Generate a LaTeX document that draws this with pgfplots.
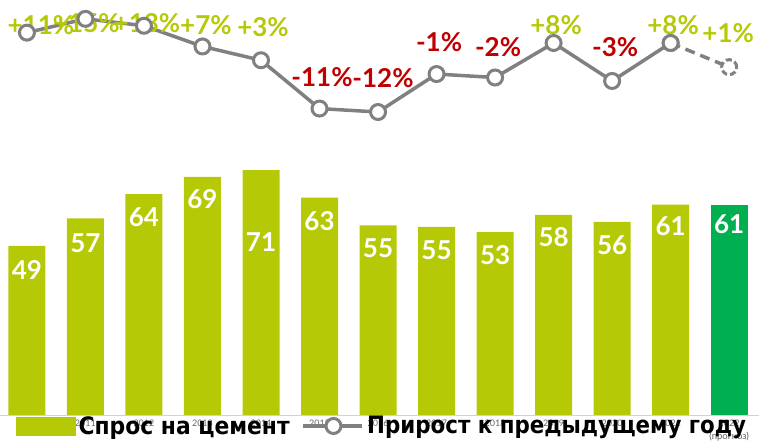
\documentclass[border=0pt]{standalone}
\usepackage{pgfplots}
\pgfplotsset{compat=1.18}
\usepackage{fontspec}
\setmainfont{Lato}
\newfontfamily\legA[FakeStretch=0.91]{DejaVu Sans}
\newfontfamily\legB[FakeStretch=0.89]{DejaVu Sans}
\definecolor{barg}{RGB}{181,201,7}
\definecolor{lastg}{RGB}{0,176,80}
\definecolor{lineg}{RGB}{128,128,128}
\definecolor{redl}{RGB}{192,0,0}
\begin{document}
\begin{tikzpicture}
\useasboundingbox (0,0) rectangle (759pt,443pt);
% bars
\begin{axis}[at={(0pt,28pt)}, anchor=south west, scale only axis,
  width=759pt, height=415pt, xmin=-0.46, xmax=12.51, ymin=0, ymax=120.3,
  axis y line=none, axis x line*=bottom,
  x axis line style={draw=gray!35, line width=0.8pt, -},
  xtick={0,...,12}, major tick length=0pt,
  xticklabels={2010,2011,2012,2013,2014,2015,2016,2017,2018,2019,2020,2021,2022},
  xticklabel style={font=\fontsize{9}{10}\selectfont, text=gray!80!black, yshift=-1pt},
  /pgf/number format/assume math mode=true,
  clip=false]
\addplot[ybar, bar width=37pt, fill=barg, draw=none] coordinates {
(0,49) (1,57) (2,64) (3,69) (4,71) (5,63) (6,55) (7,54.5) (8,53) (9,58) (10,56) (11,61)};
\addplot[ybar, bar width=37pt, fill=lastg, draw=none] coordinates {(12,61)};
\begin{scope}[every node/.style={font=\bfseries\fontsize{26}{30}\selectfont, text=white, anchor=center}]
\node[yshift=-24pt] at (axis cs:0,49) {49};
\node[yshift=-25pt] at (axis cs:1,57) {57};
\node[yshift=-23pt] at (axis cs:2,64) {64};
\node[yshift=-22pt] at (axis cs:3,69) {69};
\node[yshift=-72pt] at (axis cs:4,71) {71};
\node[yshift=-23pt] at (axis cs:5,63) {63};
\node[yshift=-23pt] at (axis cs:6,55) {55};
\node[yshift=-23pt] at (axis cs:7,54.5) {55};
\node[yshift=-23pt] at (axis cs:8,53) {53};
\node[yshift=-22pt] at (axis cs:9,58) {58};
\node[yshift=-23pt] at (axis cs:10,56) {56};
\node[yshift=-22pt] at (axis cs:11,61) {61};
\node[yshift=-20pt] at (axis cs:12,61) {61};
\end{scope}
\node[font=\fontsize{9.5}{10}\selectfont, text=gray!70!black] at (axis cs:12,0) [yshift=-22pt] {(прогноз)};
\end{axis}
% line
\begin{axis}[at={(0pt,28pt)}, anchor=south west, scale only axis,
  width=759pt, height=415pt, xmin=-0.46, xmax=12.51, ymin=-99.8, ymax=20.46,
  hide axis, clip=false,
  legend columns=2,
  legend style={at={(16/759,-11/415)}, anchor=west, draw=none, fill=none,
    inner sep=0pt, font=\bfseries\fontsize{24}{26}\selectfont,
    nodes={inner xsep=3pt, inner ysep=0pt},
    /tikz/every even column/.append style={column sep=9pt}},
  legend cell align=left]
\addlegendimage{legend image code/.code={\fill[barg] (0pt,-9pt) rectangle (59pt,9pt);}}
\addlegendentry{\legA Спрос на цемент}
\addplot[forget plot, color=lineg, line width=3.5pt, dash pattern=on 10pt off 6pt,
  mark=*, mark size=7.5pt, mark options={fill=white, draw=lineg, line width=3pt, dash pattern=on 6pt off 3pt}]
  coordinates {(11,8) (12,1)};
\addplot[color=lineg, line width=3.5pt, mark=*, mark size=7.5pt,
  mark options={fill=white, draw=lineg, line width=3pt, solid},
  legend image code/.code={\draw[lineg, line width=3.5pt] (0pt,0pt) -- (59pt,0pt);
    \draw[lineg, line width=3pt, fill=white] (30pt,0pt) circle (7.5pt);}]
  coordinates {(0,11) (1,15) (2,13) (3,7) (4,3) (5,-11) (6,-12) (7,-1) (8,-2) (9,8) (10,-3) (11,8)};
\addlegendentry{\legB Прирост к предыдущему году}
\begin{scope}[every node/.style={font=\bfseries\fontsize{26}{30}\selectfont, anchor=center}]
\node[text=barg, xshift=14pt, yshift=7.6pt] at (axis cs:0,11) {+11\%};
\node[text=barg, xshift=1pt, yshift=-4pt] at (axis cs:1,15) {+15\%};
\node[text=barg, xshift=3pt, yshift=2.7pt] at (axis cs:2,13) {+13\%};
\node[text=barg, xshift=3.5pt, yshift=21.5pt] at (axis cs:3,7) {+7\%};
\node[text=barg, xshift=2pt, yshift=33pt] at (axis cs:4,3) {+3\%};
\node[text=redl, xshift=2.5pt, yshift=31.5pt] at (axis cs:5,-11) {-11\%};
\node[text=redl, xshift=5pt, yshift=34pt] at (axis cs:6,-12) {-12\%};
\node[text=redl, xshift=2.5pt, yshift=32pt] at (axis cs:7,-1) {-1\%};
\node[text=redl, xshift=3pt, yshift=30.5pt] at (axis cs:8,-2) {-2\%};
\node[text=barg, xshift=2.5pt, yshift=18pt] at (axis cs:9,8) {+8\%};
\node[text=redl, xshift=3pt, yshift=34pt] at (axis cs:10,-3) {-3\%};
\node[text=barg, xshift=2.5pt, yshift=18pt] at (axis cs:11,8) {+8\%};
\node[text=barg, xshift=-1pt, yshift=34pt] at (axis cs:12,1) {+1\%};
\end{scope}
\end{axis}
\end{tikzpicture}
\end{document}
